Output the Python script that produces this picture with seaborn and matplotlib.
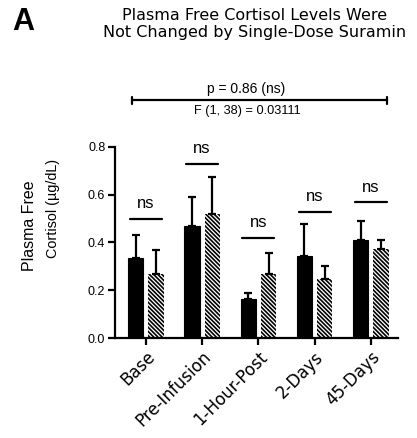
import numpy as np
import pandas as pd
import matplotlib
matplotlib.use("Agg")
import matplotlib.pyplot as plt
import seaborn as sns

# Plasma free cortisol (µg/dL), mean and upper SEM per time point and group
timepoints = ["Base", "Pre-Infusion", "1-Hour-Post", "2-Days", "45-Days"]
groups = ["Placebo", "Suramin"]
placebo_mean = [0.335, 0.470, 0.162, 0.343, 0.410]
placebo_sem = [0.097, 0.120, 0.028, 0.133, 0.080]
suramin_mean = [0.270, 0.520, 0.270, 0.247, 0.373]
suramin_sem = [0.100, 0.156, 0.087, 0.053, 0.037]
ns_line_y = [0.500, 0.730, 0.420, 0.528, 0.568]
y_ticks = [0.0, 0.2, 0.4, 0.6, 0.8]

sns.set_style("ticks")
plt.rcParams["font.family"] = ["Liberation Sans", "DejaVu Sans"]
plt.rcParams.update({
    "hatch.linewidth": 1.2,
    "text.color": "black",
    "axes.edgecolor": "black",
    "axes.labelcolor": "black",
    "xtick.color": "black",
    "ytick.color": "black",
})

df = pd.DataFrame({
    "Time": timepoints * 2,
    "Group": [groups[0]] * 5 + [groups[1]] * 5,
    "Cortisol": placebo_mean + suramin_mean,
})

fig = plt.figure(figsize=(4.17, 4.38), dpi=100)
ax = fig.add_axes([0.2758, 0.2283, 0.954 - 0.2758, 0.6644 - 0.2283])

sns.barplot(data=df, x="Time", y="Cortisol", hue="Group", order=timepoints,
            hue_order=groups, palette=["black", "white"], width=0.72, gap=0.25,
            errorbar=None, edgecolor="black", linewidth=0.8, legend=False, ax=ax)

# hatch the Suramin bars
for patch in ax.patches[5:10]:
    patch.set_hatch("\\\\\\\\\\\\\\\\")
    patch.set_edgecolor("black")
    patch.set_linewidth(0)

x = np.arange(len(timepoints))
off = 0.18
for xs, m, s in [(x - off, placebo_mean, placebo_sem), (x + off, suramin_mean, suramin_sem)]:
    ax.errorbar(xs, m, yerr=[np.zeros(len(m)), s], fmt="none", ecolor="black",
                elinewidth=1.6, capsize=3, capthick=1.6, zorder=3)

# per-time-point comparison lines
for i, yv in enumerate(ns_line_y):
    ax.plot([i - 0.285, i + 0.285], [yv, yv], color="black", lw=1.6, clip_on=False)
    ax.text(i, yv + 0.064, "ns", ha="center", va="center", fontsize=12)

# overall group effect bracket
yb = 0.995
ax.plot([-0.25, 4.28], [yb, yb], color="black", lw=1.6, clip_on=False)
for xe in (-0.25, 4.28):
    ax.plot([xe, xe], [yb - 0.013, yb + 0.013], color="black", lw=1.6, clip_on=False)
ax.text(1.78, yb + 0.02, "p = 0.86 (ns)", ha="center", va="bottom", fontsize=10)
ax.text(1.81, yb - 0.02, "F (1, 38) = 0.03111", ha="center", va="top", fontsize=9.2)

ax.set_xlim(-0.55, 4.48)
ax.set_ylim(0, 0.8)
ax.set_yticks(y_ticks)
ax.set_yticklabels([f"{t:.1f}" for t in y_ticks], fontsize=9)
ax.set_xticks(x)
ax.set_xticklabels(timepoints, rotation=45, ha="right", rotation_mode="anchor",
                   fontsize=12, family="DejaVu Sans")
ax.set_xlabel("")
ax.set_ylabel("")
sns.despine(ax=ax)
for sp in ("left", "bottom"):
    ax.spines[sp].set_linewidth(1.6)
ax.tick_params(axis="both", width=1.6, length=5, pad=2, colors="black")

# y-axis title, two lines
fig.text(29 / 417, 1 - 226 / 438, "Plasma Free", rotation=90,
         ha="center", va="center", fontsize=11.5)
fig.text(53 / 417, 1 - 208 / 438, "Cortisol (µg/dL)", rotation=90,
         ha="center", va="center", fontsize=10.4)

fig.text(255 / 417, 1 - 16 / 438, "Plasma Free Cortisol Levels Were",
         ha="center", va="center", fontsize=11.5, family="DejaVu Sans")
fig.text(255 / 417, 1 - 33 / 438, "Not Changed by Single-Dose Suramin",
         ha="center", va="center", fontsize=11.5, family="DejaVu Sans")
fig.text(23 / 417, 1 - 22 / 438, "A", ha="center", va="center",
         fontsize=22, fontweight="bold")

fig.savefig("out.png", dpi=100)
